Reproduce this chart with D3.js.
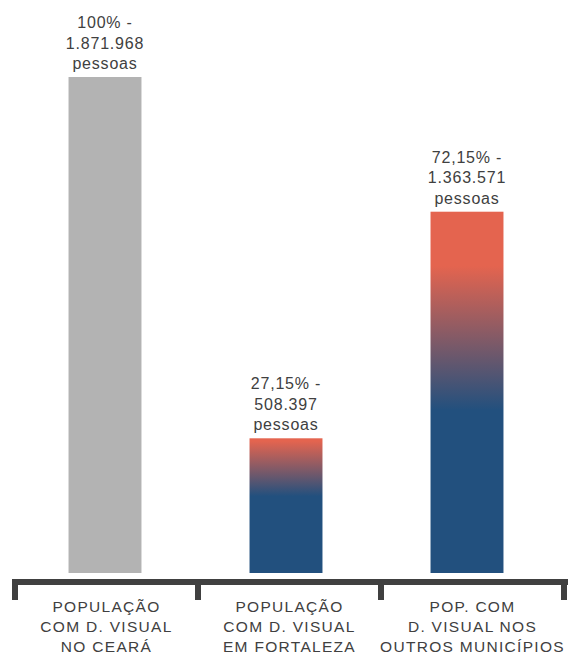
<!DOCTYPE html>
<html>
<head>
<meta charset="utf-8">
<script src="https://cdn.jsdelivr.net/npm/d3@7"></script>
<style>
  html, body { margin: 0; padding: 0; background: #ffffff; }
  svg { display: block; }
  text { font-family: "Liberation Sans", Arial, sans-serif; fill: #404040; }
</style>
</head>
<body>
<svg id="chart" width="568" height="655"></svg>
<script>
// Pessoas com deficiência visual no Ceará
const categories = [
  ["POPULAÇÃO", "COM D. VISUAL", "NO CEARÁ"],
  ["POPULAÇÃO", "COM D. VISUAL", "EM FORTALEZA"],
  ["POP. COM", "D. VISUAL NOS", "OUTROS MUNICÍPIOS"]
];
const people = [1871968, 508397, 1363571];
const percentLabels = ["100% -", "27,15% -", "72,15% -"];
const countLabels = ["1.871.968", "508.397", "1.363.571"];
const unitLabel = "pessoas";

const svg = d3.select("#chart");

// Bar positions
const x = d3.scaleBand()
  .domain(d3.range(categories.length))
  .range([14.5, 557.5])
  .paddingInner(0.597)
  .paddingOuter(0.2985);

// Bracket groups under the bars
const xGroup = d3.scaleBand()
  .domain(d3.range(categories.length))
  .range([15, 564]);

const y = d3.scaleLinear()
  .domain([0, d3.max(people)])
  .range([573, 77]);

// Vertical gradients: coral at the top fading into navy blue
const defs = svg.append("defs");
const fills = [
  null,
  [[0, "#e4644f"], [0.02, "#e4644f"], [0.43, "#22507e"], [1, "#22507e"]],
  [[0, "#e4644f"], [0.15, "#e4644f"], [0.55, "#22507e"], [1, "#22507e"]]
];
fills.forEach((stops, i) => {
  if (!stops) return;
  const g = defs.append("linearGradient")
    .attr("id", "grad" + i)
    .attr("x1", 0).attr("y1", 0).attr("x2", 0).attr("y2", 1);
  stops.forEach(([o, c]) => g.append("stop").attr("offset", o).attr("stop-color", c));
});

// Bars
svg.append("g").selectAll("rect")
  .data(people)
  .join("rect")
  .attr("x", (d, i) => x(i))
  .attr("width", x.bandwidth())
  .attr("y", d => y(d))
  .attr("height", d => y(0) - y(d))
  .attr("fill", (d, i) => fills[i] ? `url(#grad${i})` : "#b3b3b3");

// Value labels above each bar
const valueGroup = svg.append("g")
  .attr("font-size", 16)
  .attr("letter-spacing", 0.8)
  .attr("text-anchor", "middle");
people.forEach((d, i) => {
  const cx = x(i) + x.bandwidth() / 2;
  const top = y(d);
  [percentLabels[i], countLabels[i], unitLabel].forEach((t, k) => {
    valueGroup.append("text")
      .attr("x", cx)
      .attr("y", top - 8 - (2 - k) * 20.5)
      .text(t);
  });
});

// Bracket-style axis under the bars
const axisG = svg.append("g").attr("fill", "#404040");
axisG.append("rect")
  .attr("x", 12).attr("y", 579)
  .attr("width", 556).attr("height", 6);
const edges = [...xGroup.domain().map(i => xGroup(i)), xGroup.range()[1]];
axisG.selectAll("rect.tick")
  .data(edges)
  .join("rect")
  .attr("class", "tick")
  .attr("x", d => d - 3)
  .attr("y", 579)
  .attr("width", 6)
  .attr("height", 21);

// Category labels
const catGroup = svg.append("g")
  .attr("font-size", 15.5)
  .attr("letter-spacing", 1.3)
  .attr("text-anchor", "middle");
categories.forEach((lines, i) => {
  const cx = xGroup(i) + xGroup.bandwidth() / 2;
  lines.forEach((t, k) => {
    catGroup.append("text")
      .attr("x", cx)
      .attr("y", 612 + k * 20)
      .text(t);
  });
});
</script>
</body>
</html>
